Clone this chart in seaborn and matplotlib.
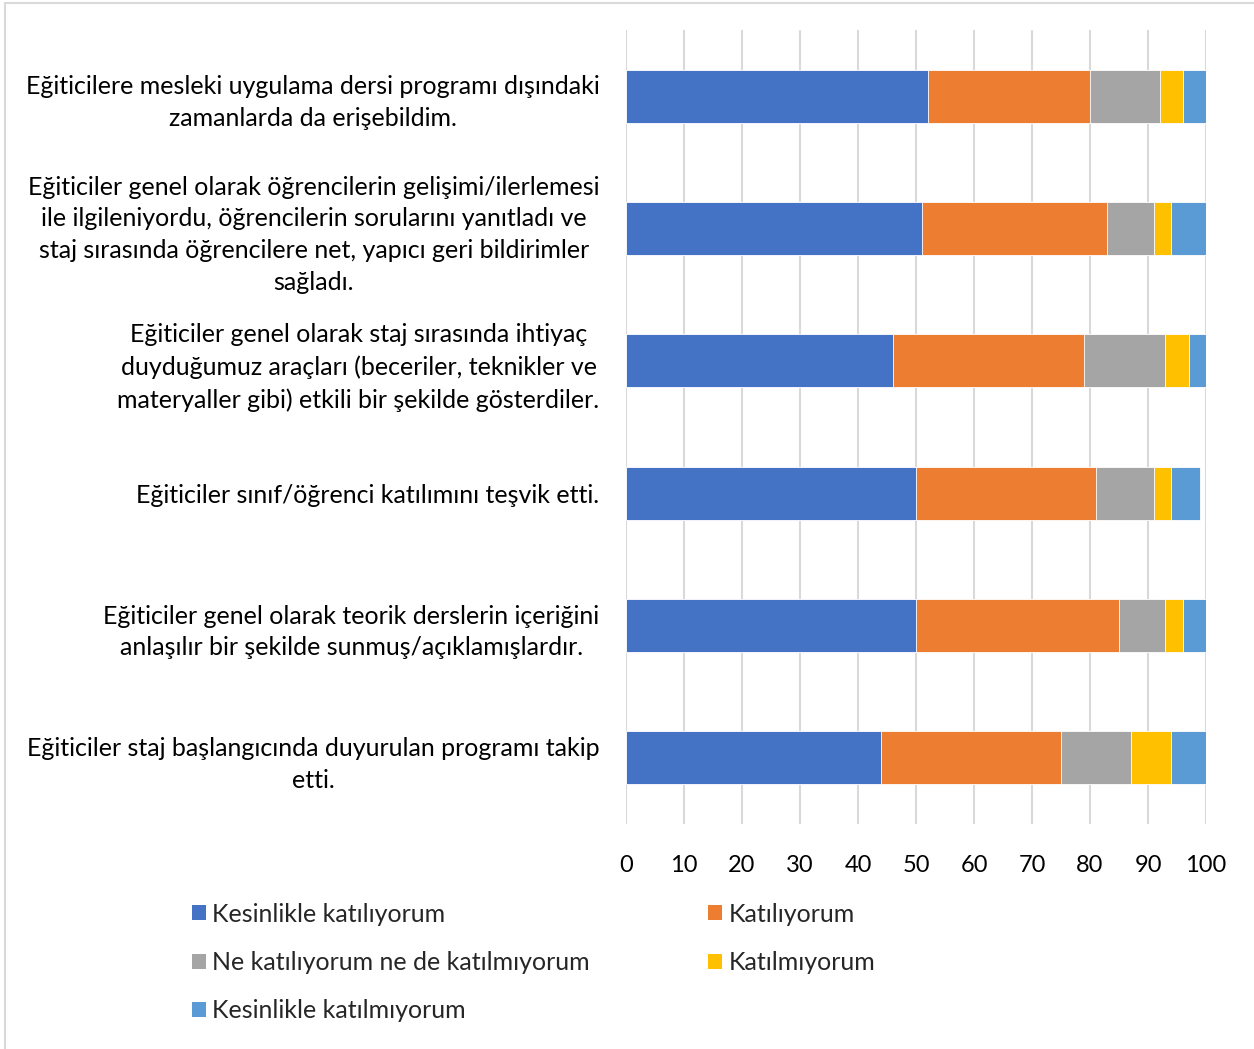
import seaborn as sns
import pandas as pd
import numpy as np
import matplotlib
matplotlib.use("Agg")
import matplotlib.pyplot as plt
from matplotlib.patches import Rectangle, Patch

# survey items, top to bottom
items = [
    "Eğiticilere mesleki uygulama dersi programı dışındaki\nzamanlarda da erişebildim.",
    "Eğiticiler genel olarak öğrencilerin gelişimi/ilerlemesi\nile ilgileniyordu, öğrencilerin sorularını yanıtladı ve\nstaj sırasında öğrencilere net, yapıcı geri bildirimler\nsağladı.",
    "Eğiticiler genel olarak staj sırasında ihtiyaç\nduyduğumuz araçları (beceriler, teknikler ve\nmateryaller gibi) etkili bir şekilde gösterdiler.",
    "Eğiticiler sınıf/öğrenci katılımını teşvik etti.",
    "Eğiticiler genel olarak teorik derslerin içeriğini\nanlaşılır bir şekilde sunmuş/açıklamışlardır.",
    "Eğiticiler staj başlangıcında duyurulan programı takip\netti.",
]

series = [
    "Kesinlikle katılıyorum",
    "Katılıyorum",
    "Ne katılıyorum ne de katılmıyorum",
    "Katılmıyorum",
    "Kesinlikle katılmıyorum",
]

kesinlikle_katiliyorum = [52, 51, 46, 50, 50, 44]
katiliyorum = [28, 32, 33, 31, 35, 31]
ne_katiliyorum = [12, 8, 14, 10, 8, 12]
katilmiyorum = [4, 3, 4, 3, 3, 7]
kesinlikle_katilmiyorum = [4, 6, 3, 5, 4, 6]

colors = ["#4472C4", "#ED7D31", "#A5A5A5", "#FFC000", "#5B9BD5"]

values = np.array([kesinlikle_katiliyorum, katiliyorum, ne_katiliyorum,
                   katilmiyorum, kesinlikle_katilmiyorum])
cum = values.cumsum(axis=0)

sns.set_style("white")
plt.rcParams["font.family"] = ["Lato", "DejaVu Sans"]
fs = 18

fig = plt.figure(figsize=(12.54, 10.49), dpi=100)
ax = fig.add_axes([626 / 1254, 1 - 824 / 1049, 580 / 1254, 794 / 1049])

# stacked bars: draw cumulative totals from the largest down
for i in range(len(series) - 1, -1, -1):
    df = pd.DataFrame({"item": items, "value": cum[i]})
    sns.barplot(data=df, x="value", y="item", orient="h", color=colors[i],
                width=0.4, edgecolor="white", linewidth=0.6, ax=ax,
                saturation=1)

ax.set_xlim(0, 100)
ax.set_ylim(5.5, -0.5)
ax.set_xticks(np.arange(0, 101, 10))
ax.xaxis.grid(True, color="#D9D9D9", linewidth=1.5)
ax.set_axisbelow(True)
for s in ax.spines.values():
    s.set_visible(False)
ax.set_xlabel("")
ax.set_ylabel("")
ax.tick_params(axis="x", length=0, pad=22, labelsize=17, colors="black")
ax.tick_params(axis="y", length=0, pad=19, labelsize=fs, colors="black")
for lbl in ax.get_yticklabels():
    lbl.set_multialignment("center")
    lbl.set_linespacing(1.47)

handles = [Patch(facecolor=c, edgecolor="none") for c in colors]
order = [0, 2, 4, 1, 3]
fig.legend([handles[k] for k in order], [series[k] for k in order],
           loc="upper left", bbox_to_anchor=(179 / 1254, 1 - 890 / 1049),
           ncol=2, frameon=False, fontsize=fs, borderpad=0,
           handlelength=0.56, handleheight=0.56, handletextpad=0.28,
           labelspacing=1.02, columnspacing=4.7)

fig.add_artist(Rectangle((5 / 1254, -0.01), 1.0, 1 - 3 / 1049 + 0.01,
                         transform=fig.transFigure, fill=False,
                         edgecolor="#D9D9D9", linewidth=1.5))

fig.savefig("out.png", dpi=100, facecolor="white")
